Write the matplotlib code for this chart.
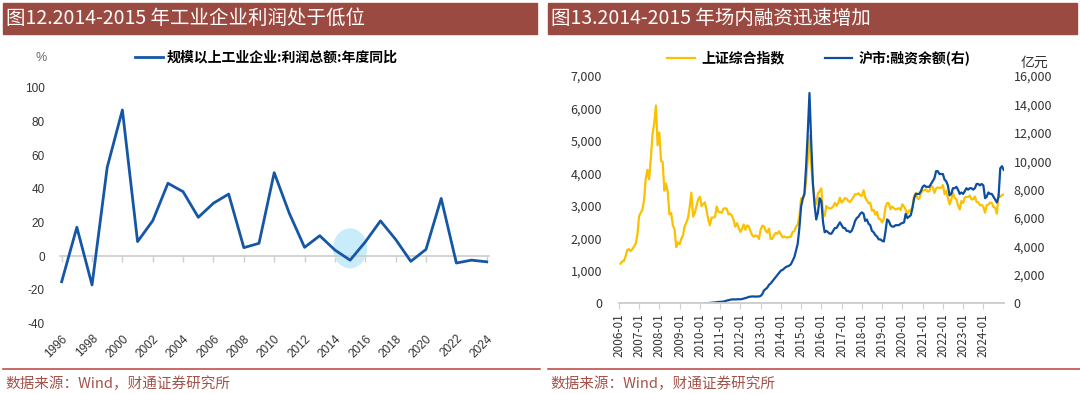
import datetime as dt

import numpy as np
import pandas as pd
import matplotlib
matplotlib.use("Agg")
from matplotlib import pyplot as plt
from matplotlib.patches import Ellipse, Rectangle
from matplotlib.lines import Line2D

plt.rcParams['font.family'] = ['Noto Sans CJK SC', 'DejaVu Sans']

# ---- left chart data: industrial profit growth, % yoy
profit_years = list(range(1996, 2025))
profit_yoy = [-15.1, 17.2, -17.0, 52.8, 86.8, 8.7, 21.1, 43.3, 38.3, 23.1,
              31.5, 36.9, 5.1, 7.7, 49.6, 25.4, 5.3, 12.2, 3.7, -2.3,
              8.5, 21.0, 10.0, -3.0, 4.1, 34.3, -4.0, -2.3, -3.3]

# ---- right chart data: SSE composite (monthly) and SH margin financing (亿元)
sse_dates = pd.date_range('2006-01-31', '2024-12-31', freq='ME')
sse_close = [
    1220, 1290, 1300, 1440, 1640, 1670, 1610, 1660, 1750, 1840, 2100, 2680,
    2790, 2880, 3180, 3840, 4110, 3820, 4470, 5220, 5550, 6090, 4870, 5260,
    4380, 4350, 3470, 3690, 3430, 2740, 2780, 2400, 2290, 1730, 1870, 1820,
    1990, 2080, 2370, 2480, 2630, 2960, 3410, 2670, 2780, 3000, 3200, 3280,
    2990, 3050, 3110, 2870, 2590, 2400, 2640, 2640, 2660, 2980, 2820, 2810,
    2790, 2910, 2930, 2910, 2740, 2760, 2700, 2570, 2360, 2470, 2330, 2200,
    2290, 2430, 2260, 2400, 2370, 2230, 2100, 2050, 2090, 2070, 1980, 2270,
    2390, 2370, 2240, 2180, 2300, 1980, 1990, 2100, 2170, 2140, 2220, 2120,
    2030, 2060, 2030, 2030, 2040, 2050, 2200, 2220, 2360, 2420, 2680, 3230,
    3210, 3310, 3750, 4440, 5150, 4280, 3660, 3210, 3050, 3380, 3450, 3540,
    2740, 2690, 3000, 2940, 2920, 2930, 2980, 3090, 3000, 3100, 3250, 3100,
    3160, 3240, 3220, 3150, 3120, 3190, 3270, 3360, 3350, 3390, 3320, 3310,
    3480, 3260, 3170, 3080, 3100, 2850, 2880, 2730, 2820, 2600, 2590, 2490,
    2590, 2940, 3090, 3080, 2900, 2980, 2930, 2890, 2910, 2930, 2870, 3050,
    2980, 2880, 2750, 2860, 2850, 2980, 3310, 3400, 3220, 3220, 3390, 3470,
    3480, 3510, 3440, 3450, 3620, 3590, 3400, 3540, 3570, 3550, 3560, 3640,
    3360, 3460, 3250, 3050, 3190, 3400, 3250, 3200, 3020, 2890, 3150, 3090,
    3260, 3280, 3270, 3320, 3200, 3200, 3290, 3120, 3110, 3020, 3030, 2970,
    2790, 3020, 3040, 3100, 3090, 2970, 2940, 2760, 3340, 3280, 3330, 3350,
]

margin_dates = pd.date_range('2010-03-31', '2024-12-31', freq='ME')
margin_bal = [
    1, 5, 15, 25, 35, 50, 60, 80, 95, 100,
    110, 120, 150, 190, 220, 250, 270, 280, 270, 280, 290, 280,
    300, 330, 360, 400, 450, 470, 480, 480, 470, 480, 480, 520,
    650, 900, 1000, 1100, 1300, 1400, 1550, 1700, 1850, 2000, 2150, 2300,
    2350, 2450, 2550, 2600, 2650, 2750, 3000, 3250, 3700, 4200, 5300, 6800,
    7400, 7700, 9600, 12000, 14800, 11500, 8500, 6900, 5900, 6400, 7400, 7200,
    5700, 5000, 5100, 5000, 4900, 4900, 5100, 5300, 5300, 5500, 5700, 5500,
    5300, 5300, 5100, 5100, 5000, 5100, 5400, 5800, 6000, 6100, 6300, 6400,
    6300, 5800, 5900, 5600, 5500, 5100, 5000, 4800, 4700, 4500, 4500, 4400,
    4350, 5000, 5900, 5800, 5500, 5400, 5400, 5500, 5500, 5500, 5600, 5650,
    5700, 6300, 6000, 6100, 6200, 6700, 7400, 7700, 7700, 7700, 7900, 8200,
    8300, 8200, 8200, 8200, 8400, 8600, 8800, 9300, 9300, 9100, 9100, 9100,
    8700, 8600, 8300, 7600, 7700, 8100, 8100, 8200, 8000, 7700, 7800, 7700,
    7900, 8100, 8000, 8100, 8100, 8000, 8100, 8400, 8400, 8300, 8400, 8300,
    7400, 7500, 7800, 7700, 7700, 7500, 7300, 7100, 7500, 9500, 9650, 9400,
]

tick_years = list(range(2006, 2025))

W, H = 1080, 394
fig = plt.figure(figsize=(W / 100, H / 100), dpi=100)

def fx(px):
    return px / W

def fy(py):
    return 1 - py / H

bar_color = '#9b4a42'
src_color = '#a4514a'
blue = '#1457a6'
navy = '#0c4ea2'
gold = '#fbc100'
grey_axis = '#d0d0d0'
txt = '#333333'

# title bars, separators and source lines
for x0, x1, title in [(3, 537, '图12.2014-2015 年工业企业利润处于低位'),
                      (548, 1077, '图13.2014-2015 年场内融资迅速增加')]:
    fig.patches.append(Rectangle((fx(x0), fy(34)), fx(x1 - x0), 31 / H,
                                 transform=fig.transFigure, color=bar_color, zorder=0))
    fig.text(fx(x0 + 3), fy(18.5), title, color='white', fontsize=14,
             va='center', ha='left', fontweight='light')
    fig.add_artist(Line2D([fx(x0), fx(x1 + 3)], [fy(369), fy(369)],
                          transform=fig.transFigure, color='#c0504d', lw=1.2))
    fig.text(fx(x0 + 2), fy(384), '数据来源：Wind，财通证券研究所', color=src_color,
             fontsize=10.5, va='center', ha='left')

# ---------------- left chart ----------------
ax1 = fig.add_axes([fx(60), fy(323.7), fx(489 - 60), (323.7 - 87.7) / H])
for s in ['top', 'right', 'left']:
    ax1.spines[s].set_visible(False)
ax1.spines['bottom'].set_position(('data', 0))
ax1.spines['bottom'].set_color(grey_axis)
ax1.spines['bottom'].set_linewidth(1.3)

ax1.plot(profit_years, profit_yoy, color=blue, lw=2, zorder=3,
         label='规模以上工业企业:利润总额:年度同比')
ax1.add_patch(Ellipse((2015, 4.7), 2.25, 23.7, color='#c8ecf9', zorder=2, lw=0))
ax1.set_xlim(1995.89, 2024.15)
ax1.set_ylim(-40, 100)
ax1.set_yticks(range(-40, 101, 20))
ax1.set_xticks(profit_years[::2])
ax1.set_xticklabels([str(y) for y in profit_years[::2]], rotation=45,
                    ha='right', rotation_mode='anchor',
                    fontfamily=['Liberation Sans', 'DejaVu Sans'])
ax1.set_yticklabels([str(v) for v in range(-40, 101, 20)],
                    fontfamily=['Liberation Sans', 'DejaVu Sans'])
ax1.tick_params(axis='x', length=4, width=1, color=grey_axis, pad=51,
                labelsize=8.5, labelcolor=txt)
ax1.tick_params(axis='y', length=0, pad=11, labelsize=8.5, labelcolor=txt)
fig.text(fx(41), fy(58), '%', color='#666666', fontsize=9, ha='center', va='center',
         family=['Liberation Sans'])
ax1.legend(loc='center left', bbox_to_anchor=(fx(135), fy(58)),
           bbox_transform=fig.transFigure, frameon=False, borderpad=0,
           borderaxespad=0, handlelength=2.0, handletextpad=0.3,
           prop={'size': 10, 'weight': 'bold'})

# ---------------- right chart ----------------
x_start = dt.datetime(2006, 1, 1)
x_end = dt.datetime(2025, 1, 1)
ax2 = fig.add_axes([fx(618.9), fy(303.3), fx(1003.7 - 618.9), (303.3 - 76) / H])
l1, = ax2.plot(sse_dates, sse_close, color=gold, lw=1.6, label='上证综合指数')
ax2.set_xlim(x_start, x_end)
ax2.set_ylim(0, 7000)
ax2.set_yticks(range(0, 7001, 1000))
ax2.set_yticklabels([f'{v:,}' for v in range(0, 7001, 1000)])

ax3 = ax2.twinx()
l2, = ax3.plot(margin_dates, margin_bal, color=navy, lw=1.6, label='沪市:融资余额(右)')
ax3.set_ylim(0, 16000)
ax3.set_yticks(range(0, 16001, 2000))
ax3.set_yticklabels([f'{v:,}' for v in range(0, 16001, 2000)])
ax3.set_xlim(x_start, x_end)

ax2.set_xticks([dt.datetime(y, 1, 1) for y in tick_years])
ax2.set_xticklabels([f'{y}-01' for y in tick_years], rotation=90)

for a in (ax2, ax3):
    for s in ['top', 'right', 'left']:
        a.spines[s].set_visible(False)
    a.spines['bottom'].set_color(grey_axis)
    a.spines['bottom'].set_linewidth(1.3)
ax2.tick_params(axis='x', length=4, color=grey_axis, pad=3, labelsize=8.5,
                labelcolor=txt)
ax2.tick_params(axis='y', length=0, pad=12, labelsize=9, labelcolor=txt)
ax3.tick_params(axis='y', length=0, pad=7, labelsize=9, labelcolor=txt)

fig.text(fx(1034), fy(63), '亿元', color=txt, fontsize=10, ha='center', va='center')

ax2.legend(handles=[l1, l2], loc='center left', bbox_to_anchor=(fx(667), fy(58)),
           bbox_transform=fig.transFigure, frameon=False, ncol=2, borderpad=0,
           borderaxespad=0, handlelength=2.0, handletextpad=0.45,
           columnspacing=2.9, prop={'size': 10, 'weight': 'bold'})

fig.savefig('out.png', dpi=100)
